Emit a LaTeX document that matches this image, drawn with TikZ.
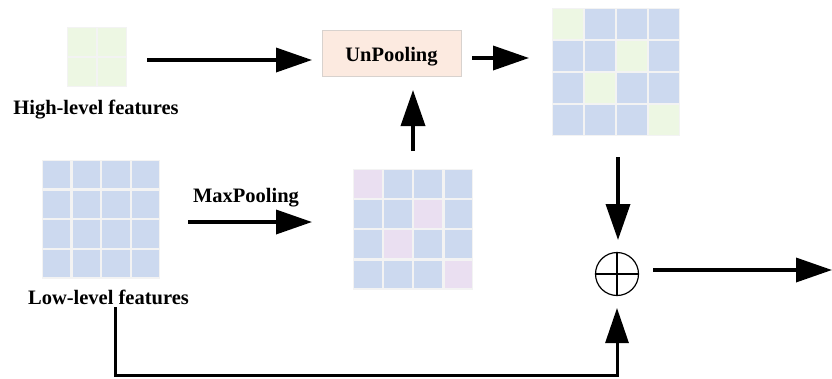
\documentclass[tikz,border=0pt]{standalone}
\usepackage{fontspec}
\setmainfont{Liberation Serif}
\usetikzlibrary{arrows.meta}
\definecolor{cellblue}{HTML}{CCD9EF}
\definecolor{cellgreen}{HTML}{EDF7E3}
\definecolor{cellpink}{HTML}{EADFF1}
\definecolor{gapgray}{HTML}{F3F3F3}
\definecolor{boxfill}{HTML}{FCEAE0}
\definecolor{boxdraw}{HTML}{D8D2CE}
% #1 left, #2 top, #3 step, #4 n, #5 colour
\newcommand\mygrid[5]{%
  \foreach \r in {1,...,#4}{\foreach \c in {1,...,#4}{%
    \fill[#5] ({#1+(\c-1)*#3+1.2},{#2+(\r-1)*#3+1.2}) rectangle ++({#3-2.4},{#3-2.4});}}}
% #1 left, #2 top, #3 step, #4 colour  (diagonal-ish highlighted cells)
\newcommand\myhilite[4]{%
  \foreach \r/\c in {1/1,2/3,3/2,4/4}{%
    \fill[#4] ({#1+(\c-1)*#3+1.2},{#2+(\r-1)*#3+1.2}) rectangle ++({#3-2.4},{#3-2.4});}}
\tikzset{
  arr/.style={line width=3.6pt, -{Triangle[length=36pt,width=24pt]}},
  lbl/.style={font=\fontsize{20.5}{24}\selectfont\bfseries, inner sep=0pt},
  gridbox/.style={draw=none, inner sep=0pt, fill=gapgray},
}
\begin{document}
\begin{tikzpicture}[x=1pt,y=-1pt]
\useasboundingbox (0,0) rectangle (832,378);
% grids
\node[gridbox, minimum width=60pt, minimum height=60pt] (hi) at (97,57) {};
\mygrid{67}{27}{30}{2}{cellgreen}
\node[gridbox, minimum width=128pt, minimum height=128pt] (outg) at (616,72) {};
\mygrid{552}{8}{32}{4}{cellblue}
\myhilite{552}{8}{32}{cellgreen}
\node[gridbox, minimum width=118pt, minimum height=119pt] (lo) at (101,219.5) {};
\mygrid{42}{160}{29.6}{4}{cellblue}
\node[gridbox, minimum width=120pt, minimum height=121pt] (mid) at (413,229.5) {};
\mygrid{353}{169}{30.1}{4}{cellblue}
\myhilite{353}{169}{30.1}{cellpink}
% labels
\node[lbl, anchor=base] (hitxt) at (96,114) {High-level features};
\node[lbl, anchor=base] (lotxt) at (108.5,304) {Low-level features};
\node[lbl, anchor=base] (mptxt) at (246,202) {MaxPooling};
\node[lbl, draw=boxdraw, fill=boxfill, line width=0.8pt, minimum width=139pt, minimum height=46pt, text height=16pt, text depth=0pt] (unp) at (391.5,53) {UnPooling};
% sum
\node[circle, draw, line width=1.2pt, minimum size=43pt, inner sep=0pt] (sum) at (617,274) {};
\draw[line width=1.1pt] (sum.north) -- (sum.south);
\draw[line width=1.1pt] (sum.west) -- (sum.east);
% connector end points
\coordinate (a1s) at (147,60);  \coordinate (a1e) at (312,60);
\coordinate (a2s) at (472,58);  \coordinate (a2e) at (529,58);
\coordinate (a3s) at (413,151); \coordinate (a3e) at (413,90);
\coordinate (a4s) at (188,222); \coordinate (a4e) at (312,222);
\coordinate (a5s) at (618,157); \coordinate (a5e) at (618,240);
\coordinate (a6s) at (115,307); \coordinate (a6e) at (617,308);
\coordinate (a7s) at (653,270); \coordinate (a7e) at (832,270);
\draw[arr] (a1s) -- (a1e);
\draw[arr] (a2s) -- (a2e);
\draw[arr] (a3s) -- (a3e);
\draw[arr] (a4s) -- (a4e);
\draw[arr] (a5s) -- (a5e);
\draw[arr, line width=3pt, -{Triangle[length=35pt,width=23pt]}] (a6s) -- (115,375) -- (617,375) -- (a6e);
\draw[arr] (a7s) -- (a7e);
\end{tikzpicture}
\end{document}
